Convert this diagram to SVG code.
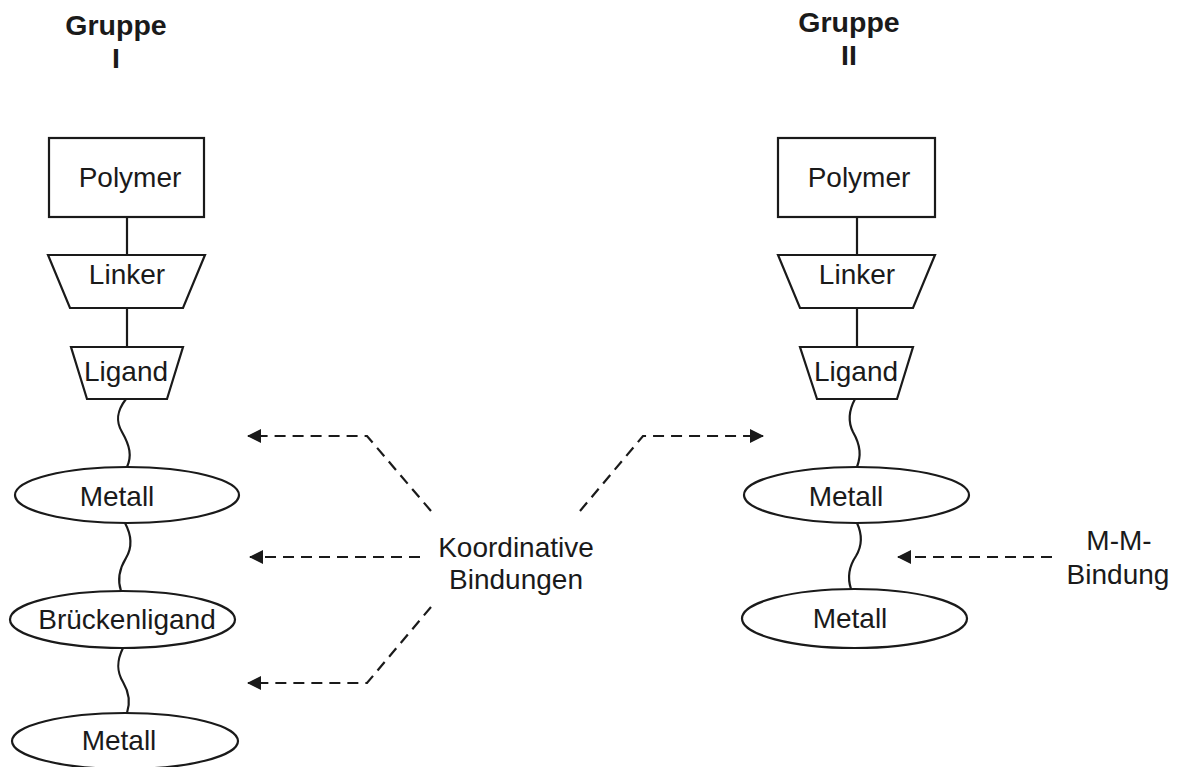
<svg xmlns="http://www.w3.org/2000/svg" width="1180" height="767" viewBox="0 0 1180 767">
<defs>
<marker id="ah" viewBox="0 0 14 14" refX="13" refY="7" markerWidth="14" markerHeight="14" markerUnits="userSpaceOnUse" orient="auto">
<path d="M0,0 L14,7 L0,14 Z" fill="#1a1a1a"/>
</marker>
<style>
.shape{fill:#fff;stroke:#1a1a1a;stroke-width:2.2}
.line{fill:none;stroke:#1a1a1a;stroke-width:2.2}
.dash{fill:none;stroke:#1a1a1a;stroke-width:2.2;stroke-dasharray:11 7}
.t{font-family:"Liberation Sans",Arial,sans-serif;font-size:28px;fill:#1a1a1a;text-anchor:middle}
.h{font-family:"Liberation Sans",Arial,sans-serif;font-size:28.5px;font-weight:bold;fill:#1a1a1a;text-anchor:middle}
</style>
</defs>
<rect width="1180" height="767" fill="#fff"/>

<g id="header1"><text class="h" x="116" y="35">Gruppe</text><text class="h" x="116" y="68">I</text></g>
<g id="header2"><text class="h" x="849" y="32">Gruppe</text><text class="h" x="849" y="65">II</text></g>

<g id="connectors">
<line class="line" x1="127" y1="217" x2="127" y2="255"/>
<line class="line" x1="127" y1="308" x2="127" y2="347"/>
<path class="line" d="M126,399 C116,412 116,422 122,432 C130,446 132,456 127,467"/>
<path class="line" d="M125,523 C132,536 132,548 126,558 C118,571 118,582 121,591"/>
<path class="line" d="M123,648 C116,662 117,672 123,682 C130,694 130,704 127,713"/>
<line class="line" x1="857" y1="217" x2="857" y2="255"/>
<line class="line" x1="857" y1="308" x2="857" y2="347"/>
<path class="line" d="M855,399 C848,412 848,422 853,432 C861,446 861,456 857,467"/>
<path class="line" d="M857,523 C863,536 862,546 856,556 C848,568 848,580 851,589"/>
<polyline class="dash" points="431,511 367,436 248,436" marker-end="url(#ah)"/>
<line class="dash" x1="420" y1="557" x2="250" y2="557" marker-end="url(#ah)"/>
<polyline class="dash" points="431,607 367,683 248,683" marker-end="url(#ah)"/>
<polyline class="dash" points="580,511 643,436 763,436" marker-end="url(#ah)"/>
<line class="dash" x1="1052" y1="557" x2="898" y2="557" marker-end="url(#ah)"/>
</g>

<g id="polymer1"><rect class="shape" x="49" y="138" width="155" height="79"/><text class="t" x="130" y="187">Polymer</text></g>
<g id="linker1"><polygon class="shape" points="48,255 205,255 183,308 70,308"/><text class="t" x="127" y="284">Linker</text></g>
<g id="ligand1"><polygon class="shape" points="71,347 183,347 167,399 87,399"/><text class="t" x="126" y="381">Ligand</text></g>
<g id="metall1"><ellipse class="shape" cx="127" cy="495" rx="112" ry="28"/><text class="t" x="117" y="506">Metall</text></g>
<g id="brueckenligand"><ellipse class="shape" cx="122.5" cy="619.5" rx="112.5" ry="28.5"/><text class="t" x="127" y="629">Brückenligand</text></g>
<g id="metall2"><ellipse class="shape" cx="125" cy="741" rx="113" ry="28"/><text class="t" x="119" y="750">Metall</text></g>

<g id="polymer2"><rect class="shape" x="778" y="138" width="157" height="79"/><text class="t" x="859" y="187">Polymer</text></g>
<g id="linker2"><polygon class="shape" points="778,255 935,255 913,308 800,308"/><text class="t" x="857" y="284">Linker</text></g>
<g id="ligand2"><polygon class="shape" points="800,347 913,347 897,399 817,399"/><text class="t" x="856" y="381">Ligand</text></g>
<g id="metall3"><ellipse class="shape" cx="856.5" cy="495" rx="112.5" ry="28"/><text class="t" x="846" y="506">Metall</text></g>
<g id="metall4"><ellipse class="shape" cx="854.5" cy="618.5" rx="112.5" ry="29.5"/><text class="t" x="850" y="628">Metall</text></g>

<g id="label-koordinative"><text class="t" x="516" y="557">Koordinative</text><text class="t" x="516" y="589">Bindungen</text></g>
<g id="label-mm"><text class="t" x="1119" y="550">M-M-</text><text class="t" x="1118" y="584">Bindung</text></g>
</svg>
